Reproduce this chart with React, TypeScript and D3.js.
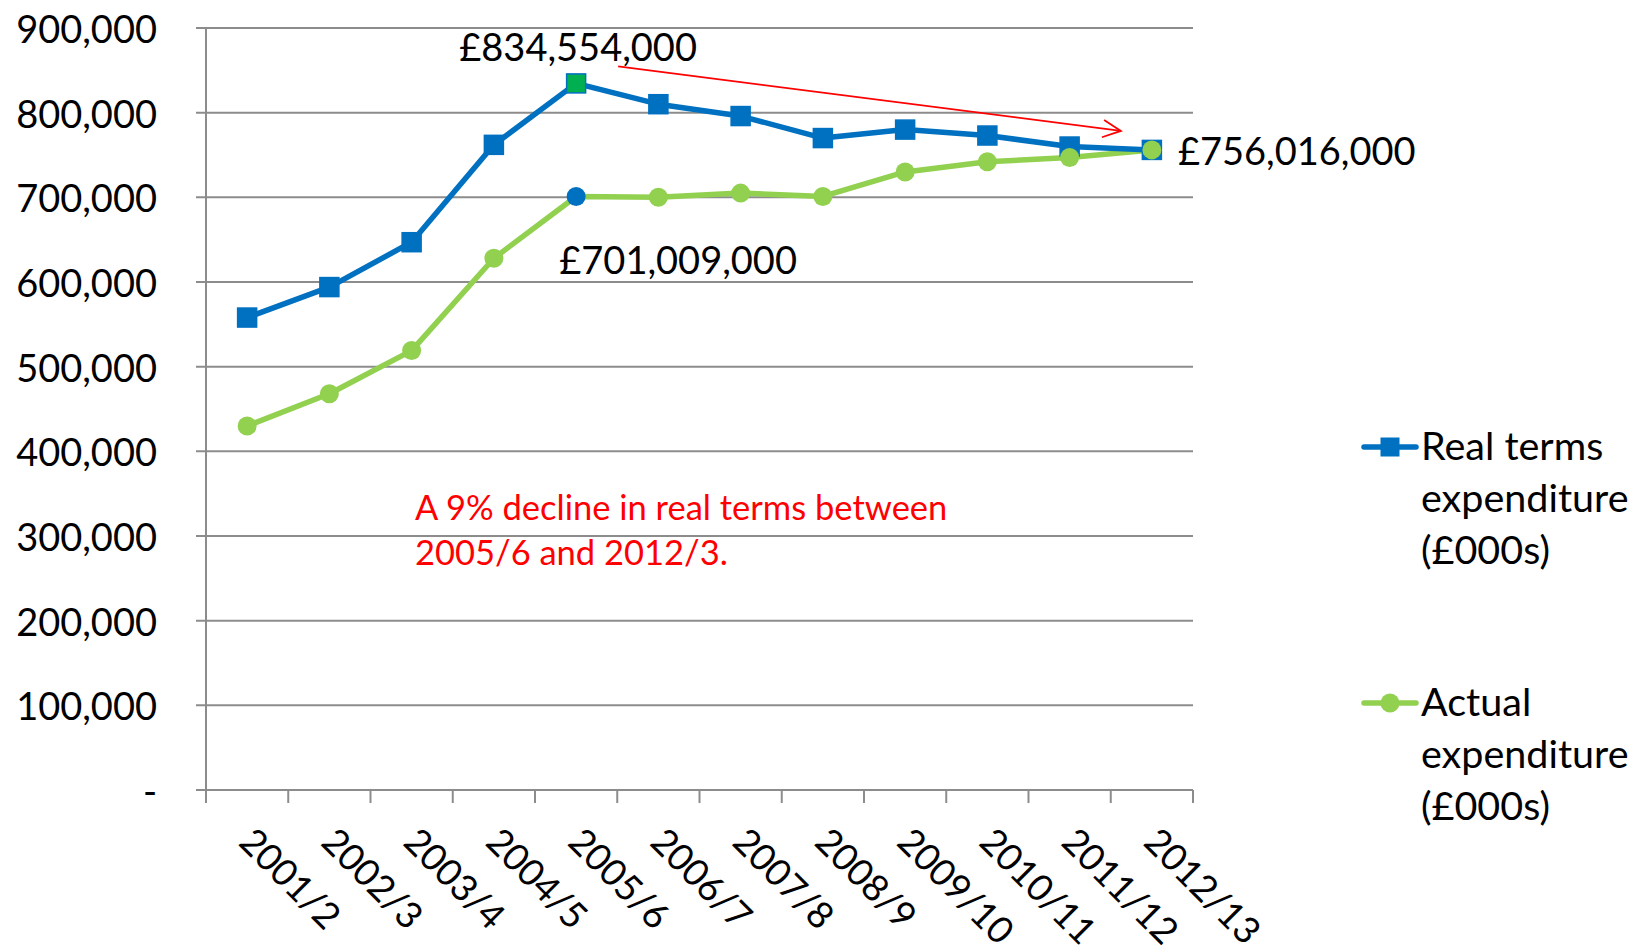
import React from 'react'
import * as d3 from 'd3'

const YEARS = ['2001/2', '2002/3', '2003/4', '2004/5', '2005/6', '2006/7', '2007/8', '2008/9', '2009/10', '2010/11', '2011/12', '2012/13']
const REAL_TERMS = [558000, 594000, 647000, 762000, 834554, 810000, 796000, 770000, 780000, 773000, 760000, 756016]
const ACTUAL = [430000, 468000, 519000, 628000, 701009, 700000, 705000, 701000, 730000, 742000, 747000, 756016]
const Y_TICKS = [0, 100000, 200000, 300000, 400000, 500000, 600000, 700000, 800000, 900000]
const SERIES_NAMES = [['Real terms', 'expenditure', '(£000s)'], ['Actual', 'expenditure', '(£000s)']]
const NOTE = ['A 9% decline in real terms between', '2005/6 and 2012/3.']

const BLUE = '#0070C0'
const GREEN = '#92D050'
const DARK_GREEN = '#00B050'
const GRID = '#8c8c8c'
const FONT = 'Lato, "Open Sans", sans-serif'

const W = 1639
const H = 951
const margin = { left: 206, right: 446, top: 28, bottom: 161 }

export default function App() {
  const x = d3.scaleBand<string>()
    .domain(YEARS)
    .range([margin.left, W - margin.right])
  const y = d3.scaleLinear()
    .domain([0, 900000])
    .range([H - margin.bottom, margin.top])

  const cx = (i: number) => (x(YEARS[i]) as number) + x.bandwidth() / 2
  const fmt = d3.format(',')

  const line = d3.line<number>()
    .x((d, i) => cx(i))
    .y(d => y(d))

  const peak = 4
  const last = YEARS.length - 1
  const sq = 19
  const r = 9.5

  // arrow from the peak label towards the last point
  const ax1 = cx(peak) + 42
  const ay1 = y(REAL_TERMS[peak]) - 17
  const ax2 = cx(last) - 31
  const ay2 = y(REAL_TERMS[last]) - 19
  const ang = Math.atan2(ay2 - ay1, ax2 - ax1)
  const head = 20
  const spread = 0.45
  const headPath = `M${ax2 - head * Math.cos(ang - spread)},${ay2 - head * Math.sin(ang - spread)}L${ax2},${ay2}L${ax2 - head * Math.cos(ang + spread)},${ay2 - head * Math.sin(ang + spread)}`

  const x0 = margin.left
  const x1 = W - margin.right

  return (
    <svg width={W} height={H} style={{ position: 'absolute', left: 0, top: 0, background: '#fff' }} fontFamily={FONT}>
      {/* grid */}
      {Y_TICKS.map(t => (
        <g key={t}>
          <line x1={x0 - 10} x2={x1} y1={y(t)} y2={y(t)} stroke={GRID} strokeWidth={2} />
          <text x={157} y={y(t)} textAnchor="end" dominantBaseline="central" fontSize={38} fill="#000">
            {t === 0 ? '-' : fmt(t)}
          </text>
        </g>
      ))}
      <line x1={x0} x2={x0} y1={y(900000)} y2={y(0)} stroke={GRID} strokeWidth={2} />

      {/* x ticks and labels */}
      {d3.range(YEARS.length + 1).map(i => {
        const tx = x0 + i * x.step()
        return <line key={i} x1={tx} x2={tx} y1={y(0)} y2={y(0) + 13} stroke={GRID} strokeWidth={2} />
      })}
      {YEARS.map((yr, i) => (
        <text key={yr} transform={`translate(${cx(i) + 11},${y(0) + 33}) rotate(45)`} fontSize={37} fill="#000" dominantBaseline="hanging">
          {yr}
        </text>
      ))}

      {/* series lines */}
      <path d={line(ACTUAL) || ''} fill="none" stroke={GREEN} strokeWidth={5.5} strokeLinejoin="round" />
      <path d={line(REAL_TERMS) || ''} fill="none" stroke={BLUE} strokeWidth={5.5} strokeLinejoin="round" />

      {/* real terms markers */}
      {REAL_TERMS.map((v, i) => (
        <rect key={'r' + i} x={cx(i) - sq / 2} y={y(v) - sq / 2} width={sq} height={sq}
          fill={i === peak ? DARK_GREEN : BLUE} stroke={BLUE} strokeWidth={1.5} />
      ))}
      {/* actual markers */}
      {ACTUAL.map((v, i) => (
        <circle key={'a' + i} cx={cx(i)} cy={y(v)} r={r} fill={i === peak ? BLUE : GREEN} />
      ))}

      {/* value labels */}
      <text x={cx(peak) + 2} y={y(REAL_TERMS[peak]) - 22} textAnchor="middle" fontSize={38}>
        £{fmt(REAL_TERMS[peak] * 1000)}
      </text>
      <text x={cx(peak) + 102} y={y(ACTUAL[peak]) + 78} textAnchor="middle" fontSize={38}>
        £{fmt(ACTUAL[peak] * 1000)}
      </text>
      <text x={cx(last) + 26} y={y(REAL_TERMS[last])} dominantBaseline="central" fontSize={38}>
        £{fmt(REAL_TERMS[last] * 1000)}
      </text>

      {/* arrow */}
      <line x1={ax1} y1={ay1} x2={ax2} y2={ay2} stroke="#ff0000" strokeWidth={1.8} />
      <path d={headPath} fill="none" stroke="#ff0000" strokeWidth={1.8} />

      {/* note */}
      {NOTE.map((s, i) => (
        <text key={i} x={415} y={520 + i * 45} fontSize={34.5} fill="#ff0000">{s}</text>
      ))}

      {/* legend */}
      {SERIES_NAMES.map((lines, k) => {
        const ly = k === 0 ? 447 : 703
        const color = k === 0 ? BLUE : GREEN
        return (
          <g key={k}>
            <line x1={1364} x2={1416} y1={ly} y2={ly} stroke={color} strokeWidth={5.5} strokeLinecap="round" />
            {k === 0
              ? <rect x={1390 - sq / 2} y={ly - sq / 2} width={sq} height={sq} fill={BLUE} />
              : <circle cx={1390} cy={ly} r={r} fill={GREEN} />}
            {lines.map((s, j) => (
              <text key={j} x={1421} y={ly + 13 + j * 52} fontSize={39.5}>{s}</text>
            ))}
          </g>
        )
      })}
    </svg>
  )
}
